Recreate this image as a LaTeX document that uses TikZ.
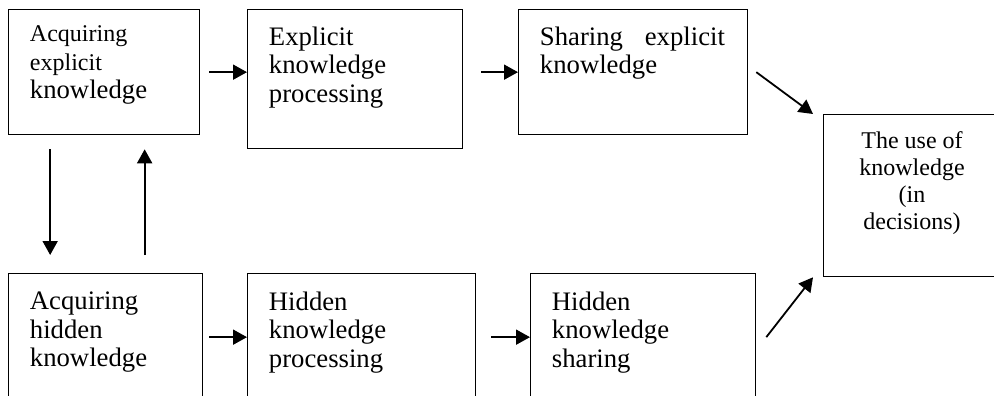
\documentclass[tikz,border=0pt]{standalone}
\usepackage{fontspec}
\setmainfont{Liberation Serif}
\usetikzlibrary{arrows.meta}

\newcommand{\smallsz}{\fontsize{24}{28.5}\selectfont}

\tikzset{
	box/.style={draw, line width=1.3pt, anchor=north west, inner sep=0pt},
	txt/.style={anchor=north west, inner sep=0.75pt, align=left, font=\fontsize{26.7}{28.5}\selectfont},
	conn/.style={line width=1.8pt, -{Triangle[length=14pt,width=15pt]}}
}

\begin{document}
\begin{tikzpicture}[x=1pt,y=1pt,yscale=-1,xscale=1]
	\useasboundingbox (0,0) rectangle (994,396);

	\node [box, minimum width=191, minimum height=125] (accExp) at (8,9) {};
	\node [box, minimum width=215, minimum height=139] (expProc) at (247,9) {};
	\node [box, minimum width=229, minimum height=125] (shareExp) at (518,9) {};
	\node [box, minimum width=177, minimum height=162] (useKn) at (823,114) {};
	\node [box, minimum width=194, minimum height=127] (accHid) at (8,273) {};
	\node [box, minimum width=228, minimum height=127] (hidProc) at (247,273) {};
	\node [box, minimum width=225, minimum height=127] (hidShare) at (530,273) {};

	\node [txt] (accExpTxt) at (29,25) {{\smallsz Acquiring}\\{\smallsz explicit}\\knowledge};
	\node [txt] (expProcTxt) at (268,26) {Explicit\\knowledge\\processing};
	\node [txt, text width=185, align=justify] (shareExpTxt) at (539,26) {Sharing explicit knowledge};
	\node [txt, anchor=north, align=center, font=\fontsize{24}{27}\selectfont] (useKnTxt) at (912,131) {The use of\\knowledge\\(in\\decisions)};
	\node [txt] (accHidTxt) at (29,291) {Acquiring\\hidden\\knowledge};
	\node [txt] (hidProcTxt) at (268,291) {Hidden\\knowledge\\processing};
	\node [txt] (hidShareTxt) at (551,291) {Hidden\\knowledge\\sharing};

	\draw [conn, shorten <=9pt] (accExp.east) -- (accExp.east -| expProc.west);
	\draw [conn, shorten <=18pt] (expProc.east |- shareExp.west) -- (shareExp.west);
	\draw [conn] ([xshift=8pt]shareExp.east) -- ([xshift=-10pt]useKn.north west);
	\draw [conn, shorten <=6pt] (accHid.east) -- (hidProc.west);
	\draw [conn, shorten <=15pt] (hidProc.east) -- (hidShare.west);
	\draw [conn] ([xshift=10pt]hidShare.east) -- ([xshift=-10pt]useKn.south west);
	\draw [conn, shorten <=14pt, shorten >=18pt] ([xshift=-54pt]accExp.south) -- ([xshift=-54pt]accExp.south |- accHid.north);
	\draw [conn, shorten <=18pt, shorten >=14pt] ([xshift=40.5pt]accExp.south |- accHid.north) -- ([xshift=40.5pt]accExp.south);
\end{tikzpicture}
\end{document}
